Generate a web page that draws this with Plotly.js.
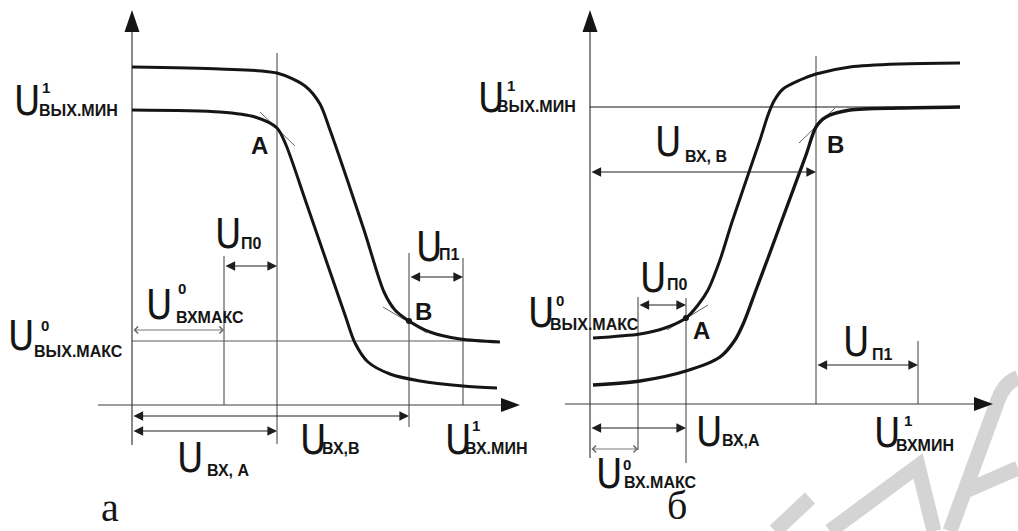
<!DOCTYPE html>
<html>
<head>
<meta charset="utf-8">
<script src="https://cdn.plot.ly/plotly-3.0.1.min.js"></script>
<style>
  html, body { margin: 0; padding: 0; background: #fff; }
  #chart { width: 1018px; height: 531px; }
</style>
</head>
<body>
<div id="chart"></div>
<script>
// Transfer characteristics of logic elements with noise margins:
// (а) inverting element, (б) non-inverting element. Voltages in volts.

// ---------- panel а ----------
const aOuterX = [0, 2.2, 3.625, 4.325, 4.7, 4.95, 5.8, 6.3, 6.575, 6.925, 7.45, 8.2, 9.2];
const aOuterY = [8.45, 8.4, 8.3, 7.975, 7.525, 6.875, 4.375, 2.825, 2.375, 2.1, 1.825, 1.65, 1.575];
const aInnerX = [0, 2.2, 3.075, 3.625, 3.85, 4.375, 5.325, 5.575, 5.9, 6.45, 7.2, 8.275, 9.125];
const aInnerY = [7.375, 7.325, 7.2, 6.925, 6.5, 5.0, 2.25, 1.55, 1.075, 0.775, 0.6, 0.475, 0.425];

const aUinMax0 = 2.3;    // U0 вх.макс
const aUinA = 3.625;     // U вх.А
const aUinB = 6.925;     // U вх.В
const aUinMin1 = 8.275;  // U1 вх.мин
const aUoutMax0 = 1.6;   // U0 вых.макс

const aPointA = [3.625, 6.925];
const aPointB = [6.925, 2.1];
const aTangentAX = [3.2, 4.075], aTangentAY = [7.325, 6.475];
const aTangentBX = [6.275, 7.375], aTangentBY = [2.45, 1.8];

// ---------- panel б ----------
const bUpperX = [0.075, 1.25, 1.875, 2.4, 2.7, 2.95, 3.25, 3.55, 4.25, 4.45, 4.6, 4.825, 5.25, 5.65, 6.5, 7.75, 9.25];
const bUpperY = [1.65, 1.75, 1.9, 2.15, 2.475, 2.85, 3.6, 4.55, 6.6, 7.225, 7.575, 7.875, 8.1, 8.25, 8.425, 8.5, 8.525];
const bLowerX = [0.075, 1.25, 2.4, 3.25, 3.625, 3.85, 4.15, 4.45, 4.8, 5.4, 5.65, 5.9, 6.5, 7.75, 9.25];
const bLowerY = [0.475, 0.575, 0.825, 1.175, 1.6, 2.05, 2.85, 3.65, 4.6, 6.225, 6.925, 7.175, 7.35, 7.4, 7.425];

const bUinMax0 = 1.2;
const bUinA = 2.4;
const bUinB = 5.65;
const bUinMin1 = 8.2;
const bUoutMin1 = 7.425;

const bPointA = [2.4, 2.15];
const bPointB = [5.65, 6.925];
const bTangentAX = [1.925, 2.95], bTangentAY = [1.85, 2.475];
const bTangentBX = [5.225, 6.125], bTangentBY = [6.525, 7.4];

// ---------- label texts ----------
const aLabelSup = ['1', '0', '0', '', '', '', '', '1'];
const aLabelSub = ['ВЫХ.МИН', 'ВЫХ.МАКС', 'ВХМАКС', 'П0', 'П1', 'ВХ,В', 'ВХ, А', 'ВХ.МИН'];
const bLabelSup = ['1', '0', '', '', '', '', '0', '1'];
const bLabelSub = ['ВЫХ.МИН', 'ВЫХ.МАКС', 'П0', 'П1', 'ВХ, В', 'ВХ,А', 'ВХ.МАКС', 'ВХМИН'];
const panelNames = ['а', 'б'];

// ---------- styling ----------
const INK = '#151515';
const THIN = '#3c3c3c';
const NARROW = '"Liberation Sans Narrow", "Arial Narrow", "DejaVu Sans Condensed", sans-serif';
const SANS = '"Liberation Sans", Arial, sans-serif';
const SERIF = '"Liberation Serif", "Times New Roman", serif';

const A = { x: 'x', y: 'y' };
const B = { x: 'x2', y: 'y2' };

const traces = [];
const annotations = [];
const shapes = [];

function curve(ref, xs, ys, w) {
  traces.push({
    type: 'scatter', mode: 'lines', xaxis: ref.x, yaxis: ref.y, x: xs, y: ys,
    line: { color: INK, width: w, shape: 'spline', smoothing: 0.8 }, hoverinfo: 'skip'
  });
}
function seg(ref, xs, ys, color, w) {
  traces.push({
    type: 'scatter', mode: 'lines', xaxis: ref.x, yaxis: ref.y, x: xs, y: ys,
    line: { color: color, width: w }, hoverinfo: 'skip'
  });
}
function dot(ref, p) {
  traces.push({
    type: 'scatter', mode: 'markers', xaxis: ref.x, yaxis: ref.y, x: [p[0]], y: [p[1]],
    marker: { color: INK, size: 6 }, hoverinfo: 'skip'
  });
}
function dimArrow(ref, x0, x1, y, open) {
  annotations.push({
    xref: ref.x, yref: ref.y, axref: ref.x, ayref: ref.y,
    x: x1, y: y, ax: x0, ay: y, text: '', showarrow: true,
    arrowside: 'end+start',
    arrowhead: open ? 4 : 2, startarrowhead: open ? 4 : 2,
    arrowsize: open ? 1.5 : 1.6, startarrowsize: open ? 1.5 : 1.6,
    arrowwidth: open ? 0.9 : 1.2,
    arrowcolor: open ? '#6a6a6a' : '#1e1e1e'
  });
}
function axisArrowUp(ref, x, yTip) {
  shapes.push({
    type: 'path', xref: ref.x, yref: ref.y, xsizemode: 'pixel', ysizemode: 'pixel',
    xanchor: x, yanchor: yTip, path: 'M0,0L-7.5,-22L7.5,-22Z',
    fillcolor: INK, line: { width: 0 }
  });
}
function axisArrowRight(ref, xTip, y) {
  shapes.push({
    type: 'path', xref: ref.x, yref: ref.y, xsizemode: 'pixel', ysizemode: 'pixel',
    xanchor: xTip, yanchor: y, path: 'M0,0L-19,7L-19,-7Z',
    fillcolor: INK, line: { width: 0 }
  });
}
// "U" with stacked superscript and subscript; offsets in px from the left/middle of the U
function uLabel(ref, x, y, sup, sub, supOff, subOff) {
  annotations.push({
    xref: ref.x, yref: ref.y, x: x, y: y, text: 'U', showarrow: false,
    xanchor: 'left', yanchor: 'middle', xshift: -3, borderpad: 0,
    font: { family: NARROW, size: 40, color: INK }
  });
  if (sup) annotations.push({
    xref: ref.x, yref: ref.y, x: x, y: y, text: sup, showarrow: false,
    xanchor: 'left', yanchor: 'middle', xshift: supOff[0] - 1, yshift: -supOff[1], borderpad: 0,
    font: { family: SANS, size: 15, color: INK, weight: 'bold' }
  });
  annotations.push({
    xref: ref.x, yref: ref.y, x: x, y: y, text: sub, showarrow: false,
    xanchor: 'left', yanchor: 'middle', xshift: subOff[0] - 1, yshift: -subOff[1], borderpad: 0,
    font: { family: SANS, size: 16, color: INK, weight: 'bold' }
  });
}
function pointLabel(ref, x, y, t) {
  annotations.push({
    xref: ref.x, yref: ref.y, x: x, y: y, text: t, showarrow: false,
    xanchor: 'center', yanchor: 'middle', borderpad: 0,
    font: { family: SANS, size: 24, color: INK, weight: 'bold' }
  });
}
function panelLetter(ref, x, y, t, lift) {
  annotations.push({
    xref: ref.x, yref: ref.y, x: x, y: y, text: t, showarrow: false,
    xanchor: 'center', yanchor: 'middle', borderpad: 0, yshift: lift,
    font: { family: SERIF, size: 40, color: INK }
  });
}

// ---------- panel а ----------
seg(A, [0, 0], [-1.0, 9.4], THIN, 1.2);            // output axis
seg(A, [-0.85, 9.3], [0, 0], THIN, 1.2);           // input axis
seg(A, [aUinA, aUinA], [-0.975, 8.8], THIN, 1);
seg(A, [aUinMax0, aUinMax0], [0, 3.725], THIN, 1);
seg(A, [aUinB, aUinB], [-0.55, 3.8], THIN, 1);
seg(A, [aUinMin1, aUinMin1], [0, 3.675], THIN, 1);
seg(A, [0, 8.45], [aUoutMax0, aUoutMax0], '#5a5a5a', 1);
seg(A, aTangentAX, aTangentAY, THIN, 0.8);
seg(A, aTangentBX, aTangentBY, THIN, 0.8);
curve(A, aOuterX, aOuterY, 3);
curve(A, aInnerX, aInnerY, 3);
dot(A, aPointB);
axisArrowUp(A, 0, 9.875);
axisArrowRight(A, 9.7, 0);

dimArrow(A, aUinMax0, aUinA, 3.475, false);
dimArrow(A, aUinB, aUinMin1, 3.2, false);
dimArrow(A, 0, aUinMax0, 1.875, true);
dimArrow(A, 0, aUinB, -0.275, false);
dimArrow(A, 0, aUinA, -0.65, false);

uLabel(A, -2.9, 7.61, aLabelSup[0], aLabelSub[0], [26, -13], [23, 10]);
uLabel(A, -3.05, 1.725, aLabelSup[1], aLabelSub[1], [31, -11], [24, 15]);
uLabel(A, 0.4, 2.5, aLabelSup[2], aLabelSub[2], [30, -17], [28, 12]);
uLabel(A, 2.125, 4.275, aLabelSup[3], aLabelSub[3], null, [24, 9]);
uLabel(A, 7.15, 3.96, aLabelSup[4], aLabelSub[4], null, [21, 8]);
uLabel(A, 4.25, -0.875, aLabelSup[5], aLabelSub[5], null, [20, 8]);
uLabel(A, 1.175, -1.325, aLabelSup[6], aLabelSub[6], null, [28, 12]);
uLabel(A, 7.875, -0.875, aLabelSup[7], aLabelSub[7], [25, -15], [18, 8]);
pointLabel(A, 3.175, 6.5, 'A');
pointLabel(A, 7.275, 2.35, 'B');
panelLetter(A, -0.55, -2.75, panelNames[0], 8);

// ---------- panel б ----------
seg(B, [0, 0], [-1.35, 9.35], THIN, 1.2);
seg(B, [-0.625, 9.6], [0, 0], THIN, 1.2);
seg(B, [bUinMax0, bUinMax0], [-1.15, 2.675], THIN, 1);
seg(B, [bUinA, bUinA], [-1.475, 2.65], THIN, 1);
seg(B, [bUinB, bUinB], [0, 8.7], THIN, 1);
seg(B, [bUinMin1, bUinMin1], [0, 1.575], THIN, 1);
seg(B, [0, 9.25], [bUoutMin1, bUoutMin1], INK, 1);
seg(B, bTangentAX, bTangentAY, THIN, 0.8);
seg(B, bTangentBX, bTangentBY, THIN, 0.8);
curve(B, bUpperX, bUpperY, 3);
curve(B, bLowerX, bLowerY, 3.3);
dot(B, bPointA);
axisArrowUp(B, 0, 9.85);
axisArrowRight(B, 10.075, 0);

dimArrow(B, bUinMax0, bUinA, 2.475, false);
dimArrow(B, bUinB, bUinMin1, 0.975, false);
dimArrow(B, 0, bUinB, 5.8, false);
dimArrow(B, 0, bUinA, -0.6, false);
dimArrow(B, 0, bUinMax0, -1.125, true);

uLabel(B, -2.75, 7.64, bLabelSup[0], bLabelSub[0], [27, -13], [17, 8]);
uLabel(B, -1.5, 2.275, bLabelSup[1], bLabelSub[1], [26, -13], [20, 11]);
uLabel(B, 1.3, 3.16, bLabelSup[2], bLabelSub[2], null, [25, 7]);
uLabel(B, 6.375, 1.54, bLabelSup[3], bLabelSub[3], null, [27, 12]);
uLabel(B, 1.675, 6.54, bLabelSup[4], bLabelSub[4], null, [28, 14]);
uLabel(B, 2.7, -0.7, bLabelSup[5], bLabelSub[5], null, [24, 8]);
uLabel(B, 0.2, -1.74, bLabelSup[6], bLabelSub[6], [25, -9], [26, 9]);
uLabel(B, 7.15, -0.725, bLabelSup[7], bLabelSub[7], [28, -13], [20, 12]);
pointLabel(B, 2.775, 1.85, 'A');
pointLabel(B, 6.125, 6.5, 'B');
panelLetter(B, 2.175, -2.6, panelNames[1], 3);

// faint publisher mark in the lower right corner
const markStyle = { color: '#d4d4d4', width: 15 };
shapes.push(
  { type: 'path', xref: 'paper', yref: 'paper', layer: 'below', line: markStyle,
    path: 'M0.7613,0 L0.7957,0.0621' },
  { type: 'path', xref: 'paper', yref: 'paper', layer: 'below', line: markStyle,
    path: 'M0.8153,0 L0.9018,0.1224 L0.9175,0' },
  { type: 'path', xref: 'paper', yref: 'paper', layer: 'below', line: markStyle,
    path: 'M0.9332,0 L0.9804,0.2467 Q0.9872,0.2806 1.0,0.2881' },
  { type: 'path', xref: 'paper', yref: 'paper', layer: 'below', line: markStyle,
    path: 'M0.9509,0.0772 L1.0,0.1186' }
);

const hidden = { visible: false, showgrid: false, zeroline: false, fixedrange: true, autorange: false };
const layout = {
  width: 1018, height: 531,
  margin: { l: 0, r: 0, t: 0, b: 0 },
  paper_bgcolor: '#ffffff', plot_bgcolor: '#ffffff',
  showlegend: false, hovermode: false,
  xaxis: Object.assign({ domain: [0, 1], range: [-3.3, 22.15] }, hidden),
  yaxis: Object.assign({ domain: [0, 1], range: [-3.15, 10.125] }, hidden),
  xaxis2: Object.assign({ overlaying: 'x', anchor: 'y2', range: [-14.75, 10.7] }, hidden),
  yaxis2: Object.assign({ overlaying: 'y', anchor: 'x2', range: [-3.175, 10.1] }, hidden),
  annotations: annotations,
  shapes: shapes
};

Plotly.newPlot('chart', traces, layout, { displayModeBar: false, staticPlot: true });
</script>
</body>
</html>
